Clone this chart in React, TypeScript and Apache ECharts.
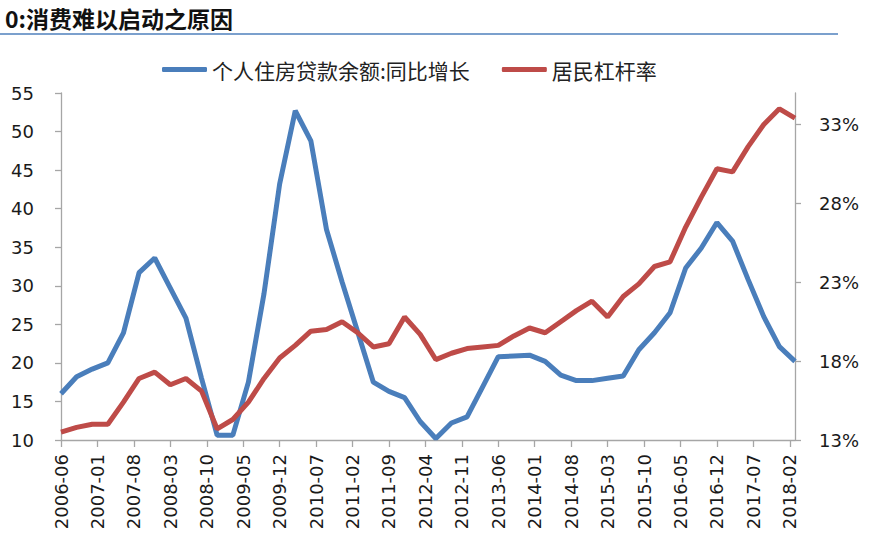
import React, { useEffect, useRef } from "react";
import * as echarts from "echarts";

// Quarterly observations, 2006-06 .. 2018-03
const startMonth = "2006-06";
const endMonth = "2018-03";
const loanGrowth = [
  16.0, 18.2, 19.2, 20.0, 23.9, 31.7, 33.6, 29.7, 25.8, 18.0, 10.6, 10.6,
  17.5, 29.0, 43.2, 52.7, 48.8, 37.3, 30.5, 24.0, 17.5, 16.3, 15.5, 12.4,
  10.2, 12.2, 13.0, 16.9, 20.8, 20.9, 21.0, 20.2, 18.4, 17.7, 17.7, 18.0,
  18.3, 21.7, 23.9, 26.5, 32.3, 34.9, 38.2, 35.8, 30.8, 26.0, 22.1, 20.2,
];
const leverage = [
  13.5, 13.8, 14.0, 14.0, 15.4, 16.9, 17.3, 16.5, 16.9, 16.1, 13.7, 14.3,
  15.4, 16.9, 18.2, 19.0, 19.9, 20.0, 20.5, 19.8, 18.9, 19.1, 20.8, 19.7,
  18.1, 18.5, 18.8, 18.9, 19.0, 19.6, 20.1, 19.8, 20.5, 21.2, 21.8, 20.8,
  22.1, 22.9, 24.0, 24.3, 26.5, 28.4, 30.2, 30.0, 31.6, 33.0, 34.0, 33.4,
];
const leftTicks = [10, 55, 5];
const rightTickValues = [13, 18, 23, 28, 33];
const seriesNames = ["个人住房贷款余额:同比增长", "居民杠杆率"];
const titleText = "0:消费难以启动之原因";

function buildMonths(a: string, b: string): string[] {
  const [ya, ma] = a.split("-").map(Number);
  const [yb, mb] = b.split("-").map(Number);
  const out: string[] = [];
  let y = ya, m = ma;
  while (y < yb || (y === yb && m <= mb)) {
    out.push(`${y}-${String(m).padStart(2, "0")}`);
    m++;
    if (m > 12) { m = 1; y++; }
  }
  return out;
}

export default function App() {
  const ref = useRef<HTMLDivElement>(null);
  useEffect(() => {
    if (!ref.current) return;
    const chart = echarts.init(ref.current, undefined, { renderer: "svg" });
    const months = buildMonths(startMonth, endMonth);
    const toMonthly = (arr: number[]) =>
      months.map((_, i) => (i % 3 === 0 ? arr[i / 3] ?? null : null));
    const axisColor = "#a6a6a6";
    const labelFont = { fontFamily: "DejaVu Sans", fontSize: 18, color: "#1a1a1a" };
    chart.setOption({
      animation: false,
      title: {
        text: titleText,
        left: 0,
        top: 1,
        textStyle: {
          fontFamily: "Noto Sans CJK SC",
          fontWeight: "bold",
          fontSize: 23,
          color: "#111",
        },
      },
      graphic: [
        {
          type: "line",
          shape: { x1: 0, y1: 34, x2: 838, y2: 34 },
          style: { stroke: "#4f81bd", lineWidth: 1.5 },
        },
      ],
      legend: {
        left: 157,
        top: 54,
        itemWidth: 45,
        itemHeight: 5,
        itemGap: 32,
        icon: "roundRect",
        textStyle: { fontFamily: "Noto Sans CJK SC", fontSize: 21, color: "#222" },
        data: seriesNames,
      },
      grid: { left: 61, right: 78, top: 93, bottom: 106, containLabel: false },
      xAxis: {
        type: "category",
        data: months,
        boundaryGap: false,
        axisLine: { lineStyle: { color: axisColor, width: 1.3 } },
        axisTick: { interval: 6, length: 7, lineStyle: { color: axisColor, width: 1.3 } },
        axisLabel: { interval: 6, rotate: 90, margin: 14, ...labelFont },
        splitLine: { show: false },
      },
      yAxis: [
        {
          type: "value",
          min: leftTicks[0],
          max: leftTicks[1],
          interval: leftTicks[2],
          axisLine: { show: true, lineStyle: { color: axisColor, width: 1.3 } },
          axisTick: { show: true, length: 6, lineStyle: { color: axisColor, width: 1.3 } },
          axisLabel: { margin: 27, ...labelFont },
          splitLine: { show: false },
        },
        {
          type: "value",
          min: 13,
          max: 35,
          position: "right",
          axisLine: { show: true, lineStyle: { color: axisColor, width: 1.3 } },
          axisTick: {
            show: true,
            length: 6,
            customValues: rightTickValues,
            lineStyle: { color: axisColor, width: 1.3 },
          },
          axisLabel: {
            margin: 24,
            customValues: rightTickValues,
            formatter: (v: number) => `${v}%`,
            ...labelFont,
          },
          splitLine: { show: false },
        },
      ],
      series: [
        {
          name: seriesNames[0],
          type: "line",
          yAxisIndex: 0,
          data: toMonthly(loanGrowth),
          connectNulls: true,
          showSymbol: false,
          symbol: "none",
          lineStyle: { color: "#4a7ebb", width: 5 },
          itemStyle: { color: "#4a7ebb" },
        },
        {
          name: seriesNames[1],
          type: "line",
          yAxisIndex: 1,
          data: toMonthly(leverage),
          connectNulls: true,
          showSymbol: false,
          symbol: "none",
          lineStyle: { color: "#be4b48", width: 5 },
          itemStyle: { color: "#be4b48" },
        },
      ],
    });
    return () => chart.dispose();
  }, []);
  return (
    <div
      ref={ref}
      style={{ position: "fixed", left: 0, top: 0, width: 873, height: 546, background: "#fff" }}
    />
  );
}
